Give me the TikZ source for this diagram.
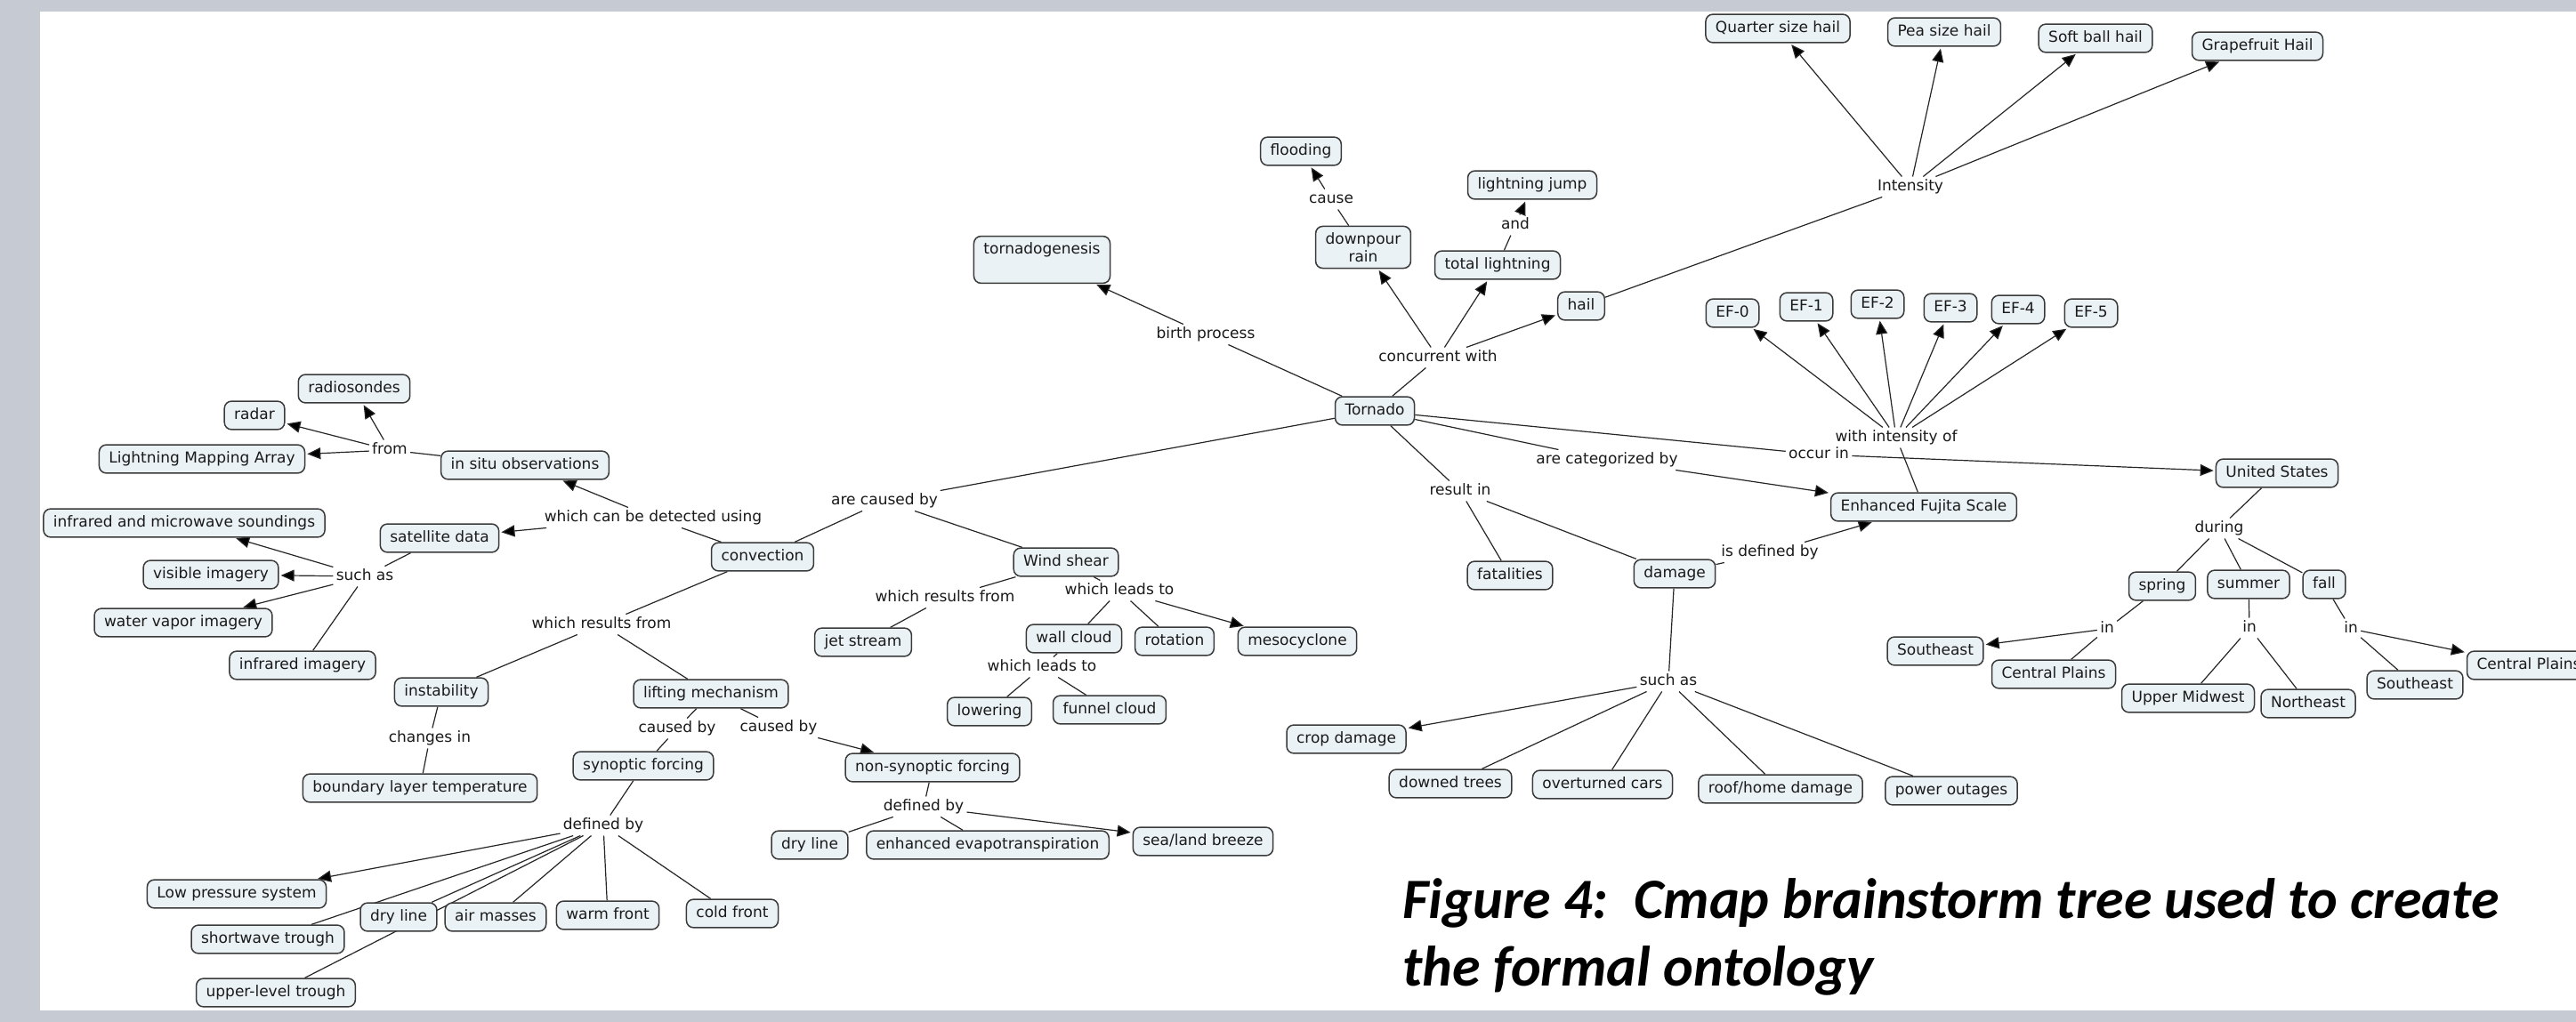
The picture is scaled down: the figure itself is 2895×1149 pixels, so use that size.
\documentclass[tikz,border=0pt]{standalone}
\usepackage{fontspec}
\setmainfont{DejaVu Sans}
\newfontfamily\capfont{Carlito}
\usetikzlibrary{arrows.meta}
\pgfdeclarelayer{bglayer}
\pgfdeclarelayer{edgelayer}
\pgfsetlayers{bglayer,edgelayer,main}
\definecolor{framegray}{HTML}{C5CAD3}
\definecolor{boxfill}{HTML}{EBF2F5}
\definecolor{boxline}{HTML}{3A3A3A}
\definecolor{linkline}{HTML}{262626}
\definecolor{txt}{HTML}{1A1A1A}
\tikzset{
 cboxbase/.style={draw=boxline, fill=boxfill, rounded corners=4pt, line width=0.75pt,
   font=\fontsize{8.5}{10}\selectfont, text=txt, inner xsep=5.5pt, inner ysep=3.9pt},
 cbox/.style={cboxbase, text height=6.3pt, text depth=1.8pt},
 lbl/.style={font=\fontsize{8.5}{10}\selectfont, text=txt, inner sep=1.5pt, text height=6.3pt, text depth=1.8pt},
 ln/.style={draw=linkline, line width=0.6pt},
 ar/.style={ln, -{Triangle[length=7.5pt,width=6.5pt,fill=black]}, shorten >=1pt},
 captxt/.style={font=\capfont\bfseries\itshape\fontsize{32}{38}\selectfont, anchor=base west, inner sep=0pt, text=black},
}
\begin{document}
\begin{tikzpicture}[x=0.5pt,y=-0.5pt]
\useasboundingbox (0,0) rectangle (2895,1149);
\begin{pgfonlayer}{bglayer}
\fill[framegray] (0,0) rectangle (2895,1149);
\fill[white] (45,13) rectangle (2895,1136);
\end{pgfonlayer}
\clip (0,0) rectangle (2895,1149);

% ---------- concepts ----------
\node[cbox] (tornado) at (1545,462) {Tornado};
\node[cbox, text depth=12.3pt] (tornadogenesis) at (1171,292) {tornadogenesis};
\node[cbox] (flooding) at (1462,170) {flooding};
\node[cboxbase, align=center, inner ysep=3.5pt] (downpour) at (1532,278) {downpour\\rain};
\node[cbox] (totlight) at (1683,298) {total lightning};
\node[cbox] (ljump) at (1722,208) {lightning jump};
\node[cbox] (hail) at (1777,344) {hail};
\node[cbox] (quarter) at (1998,32) {Quarter size hail};
\node[cbox] (pea) at (2185,36) {Pea size hail};
\node[cbox] (softball) at (2355,43) {Soft ball hail};
\node[cbox] (grapefruit) at (2537,52) {Grapefruit Hail};
\node[cbox] (ef0) at (1947,352) {EF-0};
\node[cbox] (ef1) at (2030,345) {EF-1};
\node[cbox] (ef2) at (2110,342) {EF-2};
\node[cbox] (ef3) at (2192,346) {EF-3};
\node[cbox] (ef4) at (2268,348) {EF-4};
\node[cbox] (ef5) at (2350,352) {EF-5};
\node[cbox] (efs) at (2162,570) {Enhanced Fujita Scale};
\node[cbox] (us) at (2559,532) {United States};
\node[cbox] (spring) at (2430,659) {spring};
\node[cbox] (summer) at (2527,657) {summer};
\node[cbox] (fall) at (2612,657) {fall};
\node[cbox] (se1) at (2175,732) {Southeast};
\node[cbox] (cp1) at (2308,758) {Central Plains};
\node[cbox] (um) at (2459,785) {Upper Midwest};
\node[cbox] (ne) at (2594,791) {Northeast};
\node[cbox] (se2) at (2714,770) {Southeast};
\node[cbox] (cp2) at (2842,748) {Central Plains};
\node[cbox] (fatalities) at (1697,647) {fatalities};
\node[cbox] (damage) at (1882,645) {damage};
\node[cbox] (crop) at (1513,831) {crop damage};
\node[cbox] (downed) at (1630,881) {downed trees};
\node[cbox] (overturned) at (1801,882) {overturned cars};
\node[cbox] (roof) at (2001,887) {roof/home damage};
\node[cbox] (power) at (2193,889) {power outages};
\node[cbox] (windshear) at (1198,632) {Wind shear};
\node[cbox] (jet) at (970,722) {jet stream};
\node[cbox] (wallcloud) at (1207,718) {wall cloud};
\node[cbox] (rotation) at (1320,721) {rotation};
\node[cbox] (meso) at (1458,721) {mesocyclone};
\node[cbox] (lowering) at (1112,800) {lowering};
\node[cbox] (funnel) at (1247,798) {funnel cloud};
\node[cbox] (convection) at (857,626) {convection};
\node[cbox] (insitu) at (590,523) {in situ observations};
\node[cbox] (radiosondes) at (398,437) {radiosondes};
\node[cbox] (radar) at (286,467) {radar};
\node[cbox] (lma) at (227,516) {Lightning Mapping Array};
\node[cbox] (satellite) at (494,605) {satellite data};
\node[cbox] (irmw) at (207,588) {infrared and microwave soundings};
\node[cbox] (visible) at (237,646) {visible imagery};
\node[cbox] (wv) at (206,700) {water vapor imagery};
\node[cbox] (irimg) at (340,748) {infrared imagery};
\node[cbox] (instability) at (496,778) {instability};
\node[cbox] (blt) at (472,886) {boundary layer temperature};
\node[cbox] (lifting) at (799,780) {lifting mechanism};
\node[cbox] (synoptic) at (723,861) {synoptic forcing};
\node[cbox] (nonsyn) at (1048,863) {non-synoptic forcing};
\node[cbox] (lps) at (266,1005) {Low pressure system};
\node[cbox] (dryline1) at (448,1031) {dry line};
\node[cbox] (airmasses) at (557,1031) {air masses};
\node[cbox] (warm) at (683,1029) {warm front};
\node[cbox] (cold) at (823,1027) {cold front};
\node[cbox] (shortwave) at (301,1056) {shortwave trough};
\node[cbox] (upper) at (310,1116) {upper-level trough};
\node[cbox] (dryline2) at (910,950) {dry line};
\node[cbox] (evapo) at (1110,950) {enhanced evapotranspiration};
\node[cbox] (seabreeze) at (1352,946) {sea/land breeze};

% ---------- linking phrases ----------
\node[lbl] (from) at (438,506) {from};
\node[lbl] (detect) at (734,582) {which can be detected using};
\node[lbl] (suchas1) at (410,648) {such as};
\node[lbl] (resfrom1) at (676,702) {which results from};
\node[lbl] (changes) at (483,830) {changes in};
\node[lbl] (causedby1) at (761,819) {caused by};
\node[lbl] (causedby2) at (875,818) {caused by};
\node[lbl] (definedby1) at (678,928) {defined by};
\node[lbl] (arecaused) at (994,563) {are caused by};
\node[lbl] (resfrom2) at (1062,672) {which results from};
\node[lbl] (leads1) at (1258,664) {which leads to};
\node[lbl] (leads2) at (1171,750) {which leads to};
\node[lbl] (definedby2) at (1038,907) {defined by};
\node[lbl] (birth) at (1355,376) {birth process};
\node[lbl] (concurrent) at (1616,402) {concurrent with};
\node[lbl] (cause) at (1496,224) {cause};
\node[lbl] (and) at (1703,253) {and};
\node[lbl] (intensity) at (2147,210) {Intensity};
\node[lbl] (withint) at (2131,492) {with intensity of};
\node[lbl] (occurin) at (2044,511) {occur in};
\node[lbl] (categorized) at (1806,517) {are categorized by};
\node[lbl] (resultin) at (1641,552) {result in};
\node[lbl] (isdef) at (1989,621) {is defined by};
\node[lbl] (during) at (2494,594) {during};
\node[lbl] (in1) at (2368,707) {in};
\node[lbl] (in2) at (2528,706) {in};
\node[lbl] (in3) at (2642,707) {in};
\node[lbl] (suchas2) at (1875,766) {such as};

% ---------- caption ----------
\node[captxt] (cap1) at (1576,1032) {Figure 4:\ \ Cmap brainstorm tree used to create};
\node[captxt] (cap2) at (1576,1108) {the formal ontology};

% ---------- connectors ----------
\begin{pgfonlayer}{edgelayer}
\draw[ln] (tornado) -- (arecaused);
\draw[ln] (arecaused) -- (convection);
\draw[ln] (arecaused) -- (windshear);
\draw[ln] (tornado) -- (birth);
\draw[ar] (birth) -- (tornadogenesis);
\draw[ln] (tornado) -- (concurrent);
\draw[ar] (concurrent) -- (downpour);
\draw[ar] (concurrent) -- (totlight);
\draw[ar] (concurrent) -- (hail);
\draw[ln] (downpour) -- (cause);
\draw[ar] (cause) -- (flooding);
\draw[ln] (totlight) -- (and);
\draw[ar] (and) -- (ljump);
\draw[ln] (hail) -- (intensity);
\foreach \t in {quarter,pea,softball,grapefruit} \draw[ar] (intensity) -- (\t);
\draw[ln] (tornado) -- (occurin);
\draw[ar] (occurin) -- (us);
\draw[ln] (tornado) -- (categorized);
\draw[ar] (categorized) -- (efs);
\draw[ln] (efs) -- (withint);
\foreach \t in {ef0,ef1,ef2,ef3,ef4,ef5} \draw[ar] (withint) -- (\t);
\draw[ln] (tornado) -- (resultin);
\draw[ln] (resultin) -- (fatalities);
\draw[ln] (resultin) -- (damage);
\draw[ln] (damage) -- (isdef);
\draw[ar] (isdef) -- (efs);
\draw[ln] (damage) -- (suchas2);
\draw[ar] (suchas2) -- (crop);
\foreach \t in {downed,overturned,roof,power} \draw[ln] (suchas2) -- (\t);
\draw[ln] (us) -- (during);
\foreach \t in {spring,summer,fall} \draw[ln] (during) -- (\t);
\draw[ln] (spring) -- (in1);
\draw[ar] (in1) -- (se1);
\draw[ln] (in1) -- (cp1);
\draw[ln] (summer) -- (in2);
\draw[ln] (in2) -- (um);
\draw[ln] (in2) -- (ne);
\draw[ln] (fall) -- (in3);
\draw[ar] (in3) -- (cp2);
\draw[ln] (in3) -- (se2);
\draw[ln] (windshear) -- (resfrom2);
\draw[ln] (resfrom2) -- (jet);
\draw[ln] (windshear) -- (leads1);
\draw[ln] (leads1) -- (wallcloud);
\draw[ln] (leads1) -- (rotation);
\draw[ar] (leads1) -- (meso);
\draw[ln] (wallcloud) -- (leads2);
\draw[ln] (leads2) -- (lowering);
\draw[ln] (leads2) -- (funnel);
\draw[ln] (convection) -- (detect);
\draw[ar] (detect) -- (insitu);
\draw[ar] (detect) -- (satellite);
\draw[ln] (insitu) -- (from);
\draw[ar] (from) -- (radiosondes);
\draw[ar] (from) -- (radar);
\draw[ar] (from) -- (lma);
\draw[ln] (satellite) -- (suchas1);
\draw[ar] (suchas1) -- (irmw);
\draw[ar] (suchas1) -- (visible);
\draw[ar] (suchas1) -- (wv);
\draw[ln] (suchas1) -- (irimg);
\draw[ln] (convection) -- (resfrom1);
\draw[ln] (resfrom1) -- (instability);
\draw[ln] (resfrom1) -- (lifting);
\draw[ln] (instability) -- (changes);
\draw[ln] (changes) -- (blt);
\draw[ln] (lifting) -- (causedby1);
\draw[ln] (causedby1) -- (synoptic);
\draw[ln] (lifting) -- (causedby2);
\draw[ar] (causedby2) -- (nonsyn);
\draw[ln] (synoptic) -- (definedby1);
\draw[ar] (definedby1) -- (lps);
\foreach \t in {shortwave,dryline1,upper,airmasses,warm,cold} \draw[ln] (definedby1) -- (\t);
\draw[ln] (nonsyn) -- (definedby2);
\draw[ln] (definedby2) -- (dryline2);
\draw[ln] (definedby2) -- (evapo);
\draw[ar] (definedby2) -- (seabreeze);
\end{pgfonlayer}
\end{tikzpicture}
\end{document}
